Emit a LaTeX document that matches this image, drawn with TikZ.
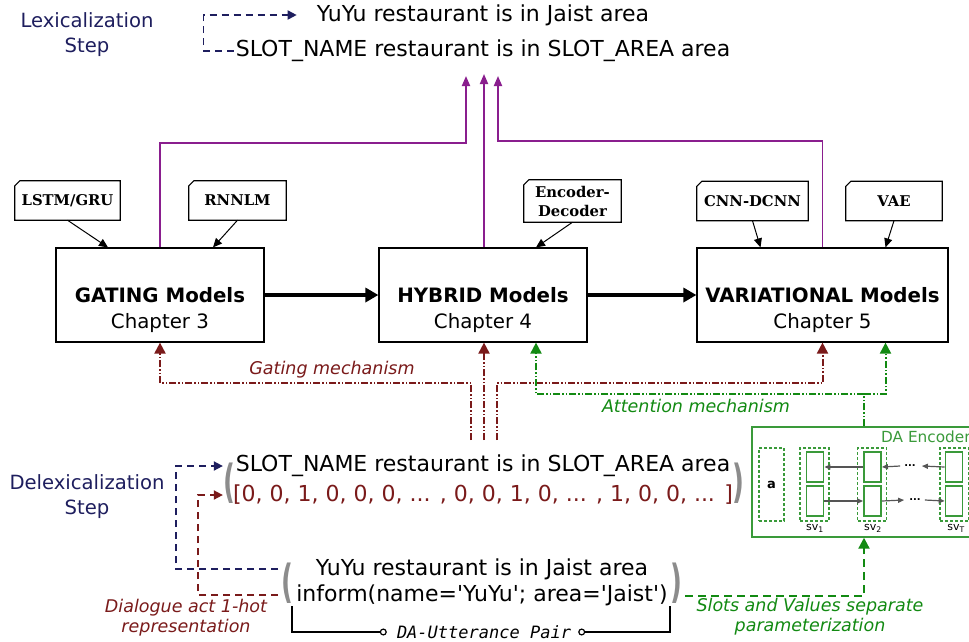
\documentclass[tikz,border=0pt]{standalone}
\usepackage{fontspec}
\usepackage{graphicx}
\setmainfont{DejaVu Sans}[Ligatures=TeXOff]
\newfontfamily\tagfont{DejaVu Serif}
\newfontfamily\pairfont{DejaVu Sans Mono}
\usetikzlibrary{arrows.meta}

\definecolor{navy}{HTML}{1E1E5E}
\definecolor{darkred}{HTML}{7A1A1A}
\definecolor{attgreen}{HTML}{128A12}
\definecolor{encgreen}{HTML}{3A9A3A}
\definecolor{purp}{HTML}{8A1E8E}
\definecolor{pargray}{HTML}{8C8C8C}
\definecolor{cellarrow}{HTML}{555555}

\tikzset{
  model/.style={draw, line width=1.2pt, minimum width=208pt, minimum height=94pt, inner sep=0pt},
  modeltext/.style={align=center, font=\fontsize{19.8}{26}\selectfont, inner sep=0pt},
  tagbox/.style={minimum height=39pt, inner sep=0pt, align=center,
                 font=\tagfont\bfseries\fontsize{14.8}{19}\selectfont},
  tagline/.style={line width=1.2pt},
  tagarrow/.style={line width=1pt, -{Triangle[length=9pt,width=8pt]}},
  bigarrow/.style={line width=3.5pt, -{Triangle[length=13pt,width=14pt]}},
  purparrow/.style={purp, line width=1.9pt, -{Triangle[length=10pt,width=8pt]}},
  dashdotdot/.style={line width=2pt, dash pattern=on 7pt off 2pt on 1.5pt off 2pt on 1.5pt off 2pt,
                     -{Triangle[length=11pt,width=11pt]}},
  gate/.style={dashdotdot, darkred},
  att/.style={dashdotdot, attgreen},
  navydash/.style={navy, line width=1.8pt, dash pattern=on 7pt off 5pt, -{Triangle[length=9pt,width=9pt]}},
  reddash/.style={darkred, line width=1.8pt, dash pattern=on 7pt off 5pt, -{Triangle[length=9pt,width=9pt]}},
  greendash/.style={attgreen, line width=2.2pt, dash pattern=on 8pt off 5pt, -{Triangle[length=11pt,width=11pt]}},
  maintext/.style={font=\fontsize{22}{24}\selectfont, inner sep=2pt},
  steplabel/.style={navy, align=center, font=\fontsize{19.6}{25}\selectfont},
  mechlabel/.style={font=\fontsize{17.5}{20}\selectfont\itshape, align=center},
  paren/.style={pargray, inner sep=0pt, font=\fontsize{26}{26}\selectfont\bfseries},
  dbox/.style={draw=encgreen, line width=1.1pt, dash pattern=on 3pt off 2pt, minimum width=29pt, minimum height=73pt, inner sep=0pt},
  cell/.style={draw=encgreen, line width=1.8pt, minimum width=17pt, minimum height=30pt, inner sep=0pt},
  cellflow/.style={cellarrow, line width=1.2pt, -{Triangle[length=6pt,width=5pt]}},
  svlab/.style={font=\fontsize{11}{12}\selectfont, inner sep=0pt},
  pairline/.style={line width=1.2pt},
}

\begin{document}
\begin{tikzpicture}[x=1pt,y=-1pt]
\clip (0,0) rectangle (969,641);
\fill[white] (0,0) rectangle (969,641);

% ---------- lexicalization ----------
\node[steplabel] (lexlab) at (87,35) {Lexicalization\\Step};
\node[maintext] (top1) at (483,15) {YuYu restaurant is in Jaist area};
\node[maintext] (top2) at (483,51) {SLOT\_NAME restaurant is in SLOT\_AREA area};
\draw[navydash] (top2.west) -- ++(-30,0) |- ([xshift=-18pt]top1.west);

% ---------- model boxes ----------
\node[model] (gating) at (160,295) {};
\node[model] (hyb) at (483,295) {};
\node[model, minimum width=251pt] (var) at (822.5,295) {};
\node[modeltext] (gatingtxt) at (160,310) {{\bfseries GATING Models}\\Chapter 3};
\node[modeltext] (hybtxt) at (483,310) {{\bfseries HYBRID Models}\\Chapter 4};
\node[modeltext] (vartxt) at (822.5,310) {{\bfseries VARIATIONAL Models}\\Chapter 5};

\draw[bigarrow] (gating.east) -- (hyb.west);
\draw[bigarrow] (hyb.east) -- (var.west);

% ---------- technique tags ----------
\node[tagbox, minimum width=105pt] (lstm) at (67.5,200.5) {LSTM/GRU};
\node[tagbox, minimum width=97pt] (rnnlm) at (237.5,200.5) {RNNLM};
\node[tagbox, minimum width=97pt, minimum height=42pt] (encdec) at (572.5,201) {Encoder-\\Decoder};
\node[tagbox, minimum width=111pt] (cnn) at (752.5,201) {CNN-DCNN};
\node[tagbox, minimum width=96pt] (vae) at (894,201) {VAE};
\foreach \n in {lstm,rnnlm,encdec,cnn,vae}
  \draw[tagline] ([yshift=-5pt]\n.north west) -- ([xshift=5pt]\n.north west) -- (\n.north east)
                 -- (\n.south east) -- (\n.south west) -- cycle;

\draw[tagarrow] (lstm.south) -- ([xshift=-52pt]gating.north);
\draw[tagarrow] (rnnlm.south) -- ([xshift=53pt]gating.north);
\draw[tagarrow] (encdec.south) -- ([xshift=53pt]hyb.north);
\draw[tagarrow] (cnn.south) -- ([xshift=-62pt]var.north);
\draw[tagarrow] (vae.south) -- ([xshift=63pt]var.north);

% ---------- outputs to the lexicalized sentence ----------
\coordinate (pl) at (466,76);
\coordinate (pm) at (484,74);
\coordinate (pr) at (498,76);
\draw[purparrow] (gating.north) -- ++(0,-104) -| (pl);
\draw[purparrow] (hyb.north -| pm) -- (pm);
\draw[purparrow] (var.north) -- ++(0,-106) -| (pr);

% ---------- gating mechanism ----------
\coordinate (g1) at (471,440);
\coordinate (g2) at (484,440);
\coordinate (g3) at (497,440);
\draw[gate] (g1) -- ++(0,-57) -| (gating.south);
\draw[gate] (g2) -- (g2 |- hyb.south);
\draw[gate] (g3) -- ++(0,-57) -| (var.south);
\node[mechlabel, darkred] (gatelab) at (332,370) {Gating mechanism};

% ---------- DA encoder ----------
\node[draw=encgreen, line width=1.4pt, minimum width=224pt, minimum height=110pt, inner sep=0pt] (enc) at (864,482) {};
\node[encgreen, anchor=west, inner sep=0pt, font=\fontsize{15.3}{17}\selectfont] (enctitle) at (881,437) {DA Encoder};

% ---------- attention mechanism ----------
\draw[att] (enc.north) -- ++(0,-32) -| ([xshift=53pt]hyb.south);
\draw[att] ([yshift=32pt]enc.north) -| ([xshift=63pt]var.south);
\node[mechlabel, attgreen] (attlab) at (696,406) {Attention mechanism};

\node[dbox, minimum width=25pt] (abox) at (771.5,484.5) {\fontsize{13}{14}\selectfont\bfseries a};
\node[dbox] (sv1) at (814.5,484.5) {};
\node[dbox] (sv2) at (872,484.5) {};
\node[dbox] (svT) at (954.5,484.5) {};
\node[cell] (u1) at (815,467) {};
\node[cell] (l1) at (815,501) {};
\node[cell] (u2) at (872.5,467) {};
\node[cell] (l2) at (872.5,501) {};
\node[cell] (uT) at (954,467) {};
\node[cell] (lT) at (954,501) {};
\node[inner sep=0pt, font=\fontsize{10}{10}\selectfont\bfseries] (dtop) at (910,466) {...};
\node[inner sep=0pt, font=\fontsize{10}{10}\selectfont\bfseries] (dbot) at (915,500) {...};
\draw[cellflow] (u2.west) -- (u1.east);
\draw[cellflow] ([xshift=-4pt]dtop.west) -- (u2.east);
\draw[cellflow] (uT.west) -- ([xshift=6pt]dtop.east);
\draw[cellflow] (l1.east) -- (l2.west);
\draw[cellflow] (l2.east) -- ([xshift=-5pt]dbot.west);
\draw[cellflow] ([xshift=4pt]dbot.east) -- (lT.west);
\node[svlab] (sv1lab) at (815,528) {sv\textsubscript{1}};
\node[svlab] (sv2lab) at (873,528) {sv\textsubscript{2}};
\node[svlab] (svTlab) at (956,528) {sv\textsubscript{T}};

% ---------- delexicalization ----------
\node[steplabel] (delexlab) at (87,497) {Delexicalization\\Step};
\node[maintext] (mid1) at (483,466) {SLOT\_NAME restaurant is in SLOT\_AREA area};
\node[maintext, darkred] (mid2) at (483,495) {[0, 0, 1, 0, 0, 0, ... , 0, 0, 1, 0, ... , 1, 0, 0, ... ]};
\node[paren] (lp1) at (229,483) {\scalebox{1}[1.75]{(}};
\node[paren] (rp1) at (738,483) {\scalebox{1}[1.75]{)}};

\node[maintext] (bot1) at (482,569) {YuYu restaurant is in Jaist area};
\node[maintext] (bot2) at (482,595) {inform(name='YuYu'; area='Jaist')};
\node[paren] (lp2) at (287,583) {\scalebox{1}[1.75]{(}};
\node[paren] (rp2) at (676,583) {\scalebox{1}[1.75]{)}};

\coordinate (nv0) at (278,569);
\coordinate (rd0) at (278,595);
\coordinate (gd0) at (685,596);
\draw[navydash] (nv0) -- ++(-102,0) |- (lp1.west |- mid1);
\draw[reddash] (rd0) -- ++(-80,0) |- (lp1.west |- mid2);
\draw[greendash] (gd0) -| (enc.south);

\node[mechlabel, darkred] (dalab) at (186,618) {Dialogue act 1-hot\\representation};
\node[mechlabel, attgreen] (svlabtxt) at (810,617) {Slots and Values separate\\parameterization};

% ---------- DA-utterance pair bracket ----------
\node[inner sep=2pt, font=\pairfont\itshape\fontsize{17}{18}\selectfont] (pair) at (484,632) {DA-Utterance Pair};
\coordinate (brl) at (292,606);
\coordinate (brr) at (670,606);
\draw[pairline, -{Circle[open,length=7pt]}] (brl) |- ([xshift=-8pt]pair.west);
\draw[pairline, -{Circle[open,length=7pt]}] (brr) |- ([xshift=5pt]pair.east);
\end{tikzpicture}
\end{document}
